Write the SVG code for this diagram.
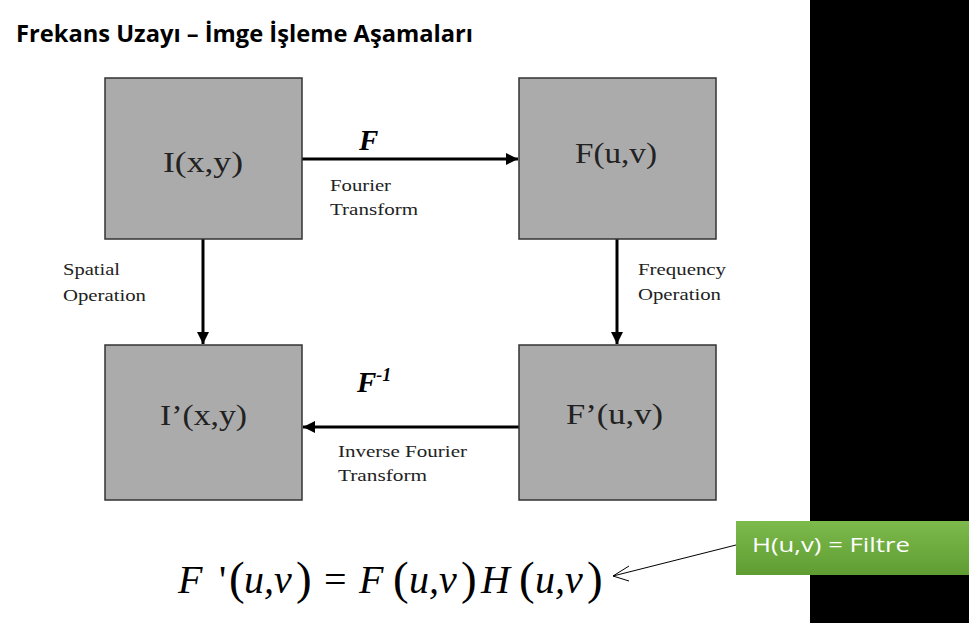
<svg xmlns="http://www.w3.org/2000/svg" width="969" height="623" viewBox="0 0 969 623">
<defs>
<style>
.box{fill:#ababab;stroke:#333;stroke-width:1.5}
.nt{font-family:"Liberation Serif",serif;font-size:30px;fill:#222}
.lbl{font-family:"Liberation Serif",serif;font-size:17px;fill:#222}
.conn{stroke:#000;stroke-width:3;fill:none}
.eq{font-family:"Liberation Serif",serif;font-size:40px;font-style:italic;fill:#000}
.up{font-style:normal}
.par{font-family:"Liberation Serif",serif;font-size:47px;font-style:normal;fill:#000}
</style>
<linearGradient id="gr" x1="0" y1="0" x2="0" y2="1">
<stop offset="0" stop-color="#7dba4c"/>
<stop offset="1" stop-color="#5f9d33"/>
</linearGradient>
<marker id="ah" viewBox="0 0 10 10" refX="10" refY="5" markerWidth="4" markerHeight="4" orient="auto" markerUnits="strokeWidth">
<path d="M0,0 L10,5 L0,10 z" fill="#000"/>
</marker>
</defs>
<rect width="969" height="623" fill="#fff"/>
<rect x="810" y="0" width="159" height="623" fill="#000"/>
<text x="16" y="42" font-family="'Open Sans','Noto Sans',sans-serif" font-weight="bold" font-size="24" textLength="457" lengthAdjust="spacingAndGlyphs" fill="#000">Frekans Uzayı – İmge İşleme Aşamaları</text>

<g id="conns">
<line class="conn" x1="302" y1="159" x2="518" y2="159" marker-end="url(#ah)"/>
<line class="conn" x1="203" y1="239" x2="203" y2="344" marker-end="url(#ah)"/>
<line class="conn" x1="617" y1="239" x2="617" y2="344" marker-end="url(#ah)"/>
<line class="conn" x1="519" y1="427" x2="303" y2="427" marker-end="url(#ah)"/>
<text x="359" y="150" font-family="'Liberation Serif',serif" font-weight="bold" font-style="italic" font-size="29">F</text>
<text class="lbl" x="330" y="191" textLength="61" lengthAdjust="spacingAndGlyphs">Fourier</text>
<text class="lbl" x="330" y="215" textLength="88" lengthAdjust="spacingAndGlyphs">Transform</text>
<text class="lbl" x="63" y="275" textLength="57" lengthAdjust="spacingAndGlyphs">Spatial</text>
<text class="lbl" x="63" y="301" textLength="83" lengthAdjust="spacingAndGlyphs">Operation</text>
<text class="lbl" x="638" y="275" textLength="88" lengthAdjust="spacingAndGlyphs">Frequency</text>
<text class="lbl" x="638" y="300" textLength="83" lengthAdjust="spacingAndGlyphs">Operation</text>
<text x="357" y="392" font-family="'Liberation Serif',serif" font-weight="bold" font-style="italic" font-size="29">F<tspan font-size="18" dy="-11">-1</tspan></text>
<text class="lbl" x="338" y="457" textLength="129" lengthAdjust="spacingAndGlyphs">Inverse Fourier</text>
<text class="lbl" x="338" y="481" textLength="89" lengthAdjust="spacingAndGlyphs">Transform</text>
</g>

<g id="n1"><rect class="box" x="105" y="78" width="197" height="161"/><text class="nt" x="163" y="172" textLength="80" lengthAdjust="spacingAndGlyphs">I(x,y)</text></g>
<g id="n2"><rect class="box" x="519" y="78" width="197" height="161"/><text class="nt" x="575" y="163" textLength="82" lengthAdjust="spacingAndGlyphs">F(u,v)</text></g>
<g id="n3"><rect class="box" x="105" y="345" width="197" height="155"/><text class="nt" x="160" y="425" textLength="87" lengthAdjust="spacingAndGlyphs">I’(x,y)</text></g>
<g id="n4"><rect class="box" x="519" y="345" width="197" height="155"/><text class="nt" x="566" y="424" textLength="97" lengthAdjust="spacingAndGlyphs">F’(u,v)</text></g>

<g id="eq">
<text class="eq" x="178" y="593">F</text>
<text class="eq up" x="219" y="593">'</text>
<text class="par" x="229" y="594">(</text>
<text class="eq" x="244" y="593">u,v</text>
<text class="par" x="296" y="594">)</text>
<text class="eq up" x="324" y="593">=</text>
<text class="eq" x="359" y="593">F</text>
<text class="par" x="393" y="594">(</text>
<text class="eq" x="409" y="593">u,v</text>
<text class="par" x="461" y="594">)</text>
<text class="eq" x="481" y="593">H</text>
<text class="par" x="519" y="594">(</text>
<text class="eq" x="535" y="593">u,v</text>
<text class="par" x="587" y="594">)</text>
</g>

<g id="filtre">
<rect x="736" y="521" width="233" height="54" fill="url(#gr)"/>
<text x="752" y="552" font-family="'Open Sans','Noto Sans',sans-serif" font-size="20" textLength="158" lengthAdjust="spacingAndGlyphs" fill="#fff">H(u,v) = Filtre</text>
</g>
<g id="callout" stroke="#000" stroke-width="1" fill="none">
<line x1="736" y1="545" x2="613" y2="576"/>
<path d="M629,566 L613,576 L629,581"/>
</g>
</svg>
